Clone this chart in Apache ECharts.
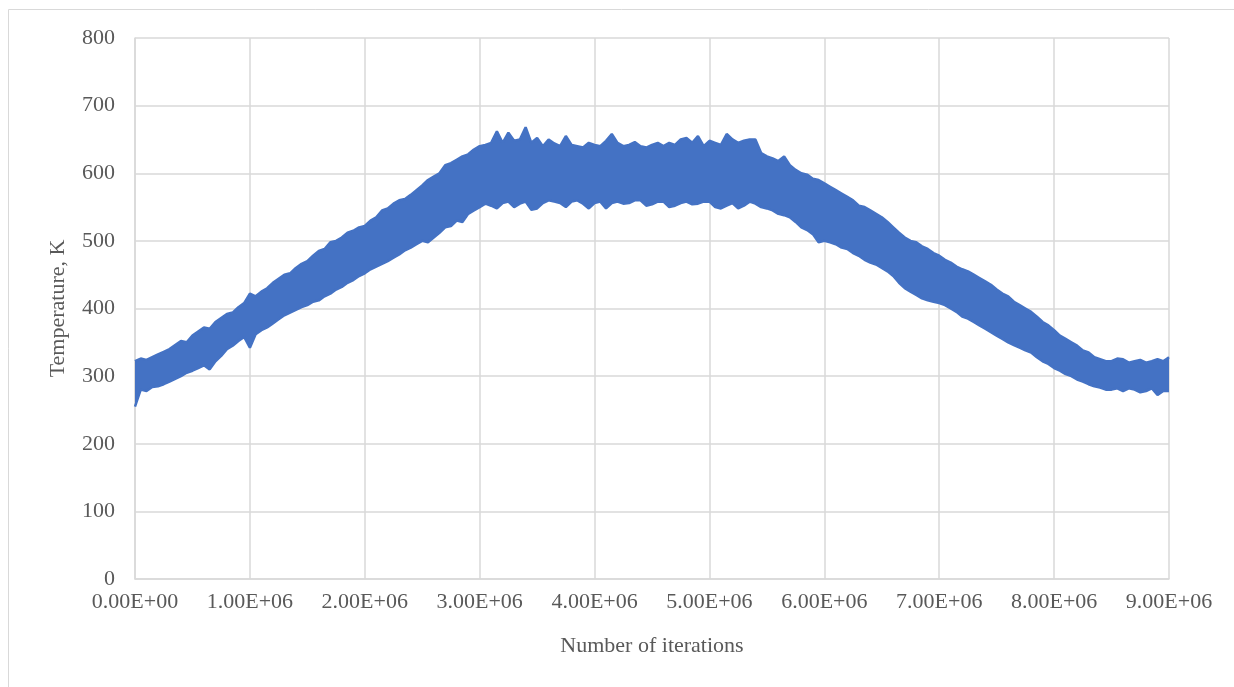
<!DOCTYPE html>
<head>
    <meta charset="utf-8">
    <title>Temperature</title>
    <script src="https://cdn.jsdelivr.net/npm/echarts@6/dist/echarts.min.js"></script>
    <style>
        html, body { margin: 0; padding: 0; background: #fff; }
        #temp { width: 1234px; height: 687px; }
    </style>
</head>
<body>
    <div id="temp"></div>
    <script type="text/javascript">
        // sampling step of the envelope readings (iterations)
        var step = 50000;
        // upper edge of the noisy band, K (every 5.0E+04 iterations)
        var upper = [
            322,326,324,328,332,336,340,346,352,350,
            360,366,372,370,380,386,392,394,402,408,
            422,418,425,430,438,444,450,452,460,466,
            470,478,485,488,498,500,505,512,515,520,
            522,530,535,545,548,555,560,562,568,575,
            582,590,595,600,612,615,620,625,628,635,
            640,642,645,662,645,660,648,650,668,645,
            652,640,650,644,640,655,642,640,638,645,
            642,640,648,658,645,640,642,646,640,638,
            642,645,640,645,642,650,652,645,655,640,
            648,645,642,658,650,645,648,650,650,630,
            625,622,618,625,612,605,600,598,592,590,
            585,580,575,570,565,560,552,550,545,540,
            535,528,520,512,505,500,498,492,488,482,
            478,472,468,462,458,455,450,445,440,435,
            428,422,418,410,405,400,395,388,380,375,
            368,360,355,350,345,338,335,328,325,322,
            322,326,325,320,322,324,320,322,325,322,
            328
        ];
        // lower edge of the noisy band, K
        var lower = [
            255,280,278,284,285,288,292,296,300,305,
            308,312,316,310,322,330,340,345,352,358,
            342,362,368,372,378,384,390,394,398,402,
            405,410,412,418,422,428,432,438,442,448,
            452,458,462,466,470,475,480,486,490,495,
            500,498,505,512,520,522,530,528,540,545,
            550,555,552,548,556,558,550,555,558,546,
            548,556,560,558,556,550,558,560,555,548,
            556,558,548,556,558,555,556,560,560,552,
            554,558,558,550,552,556,558,554,555,558,
            558,550,548,552,556,548,552,558,555,550,
            548,545,540,538,535,528,520,516,510,498,
            500,498,495,490,488,482,478,472,468,465,
            460,455,448,438,430,425,420,415,412,410,
            408,405,400,395,388,385,380,375,370,365,
            360,355,350,346,342,338,335,328,322,318,
            312,308,303,300,295,292,288,285,283,280,
            280,282,278,282,280,276,278,282,272,278,
            278
        ];
        var xTickLabels = ['0.00E+00','1.00E+06','2.00E+06','3.00E+06','4.00E+06',
                           '5.00E+06','6.00E+06','7.00E+06','8.00E+06','9.00E+06'];

        var bandData = [], upData = [], lowData = [];
        for (var i = 0; i < upper.length; i++) {
            bandData.push([i * step, upper[i], lower[i]]);
            upData.push([i * step, upper[i]]);
            lowData.push([i * step, lower[i]]);
        }

        var myChart = echarts.init(document.getElementById('temp'));
        var blue = '#4472C4';
        var font = '"Liberation Serif", "Times New Roman", serif';

        // fill between the two edges as one polygon (drawn once, for item 0)
        function renderBand(params, api) {
            if (params.dataIndex !== 0) return null;
            var pts = [], j;
            for (j = 0; j < bandData.length; j++)
                pts.push(api.coord([bandData[j][0], bandData[j][1]]));
            for (j = bandData.length - 1; j >= 0; j--)
                pts.push(api.coord([bandData[j][0], bandData[j][2]]));
            return {
                type: 'polygon',
                shape: { points: pts },
                style: { fill: blue, stroke: null }
            };
        }

        var option = {
            animation: false,
            textStyle: { fontFamily: font },
            graphic: [{
                type: 'rect', left: 6, top: 7, silent: true,
                shape: { x: 0.5, y: 0.5, width: 1400, height: 900 },
                style: { fill: 'none', stroke: '#d9d9d9', lineWidth: 1 }
            }],
            grid: { left: 135, right: 65, top: 38, bottom: 108 },
            xAxis: {
                type: 'value', min: 0, max: 9000000, interval: 1000000,
                name: 'Number of iterations', nameLocation: 'middle', nameGap: 56,
                nameTextStyle: { color: '#595959', fontSize: 22, fontFamily: font },
                axisLine: { show: true, lineStyle: { color: '#d9d9d9', width: 1.5 } },
                axisTick: { show: false },
                axisLabel: {
                    color: '#595959', fontSize: 22, fontFamily: font, margin: 12,
                    formatter: function (v) { return xTickLabels[Math.round(v / 1000000)]; }
                },
                splitLine: { show: true, lineStyle: { color: '#d9d9d9', width: 1.5 } }
            },
            yAxis: {
                type: 'value', min: 0, max: 800, interval: 100,
                name: 'Temperature, K', nameLocation: 'middle', nameGap: 66,
                nameTextStyle: { color: '#595959', fontSize: 22, fontFamily: font },
                axisLine: { show: true, lineStyle: { color: '#d9d9d9', width: 1.5 } },
                axisTick: { show: false },
                axisLabel: { color: '#595959', fontSize: 22, fontFamily: font, margin: 20 },
                splitLine: { show: true, lineStyle: { color: '#d9d9d9', width: 1.5 } }
            },
            series: [
                {
                    name: 'band', type: 'custom', data: bandData,
                    encode: { x: 0, y: [1, 2] },
                    renderItem: renderBand, silent: true
                },
                {
                    name: 'upper', type: 'line', data: upData,
                    showSymbol: false, symbol: 'none',
                    lineStyle: { color: blue, width: 2.5 }
                },
                {
                    name: 'lower', type: 'line', data: lowData,
                    showSymbol: false, symbol: 'none',
                    lineStyle: { color: blue, width: 2.5 }
                }
            ]
        };
        myChart.setOption(option);
    </script>
</body>
